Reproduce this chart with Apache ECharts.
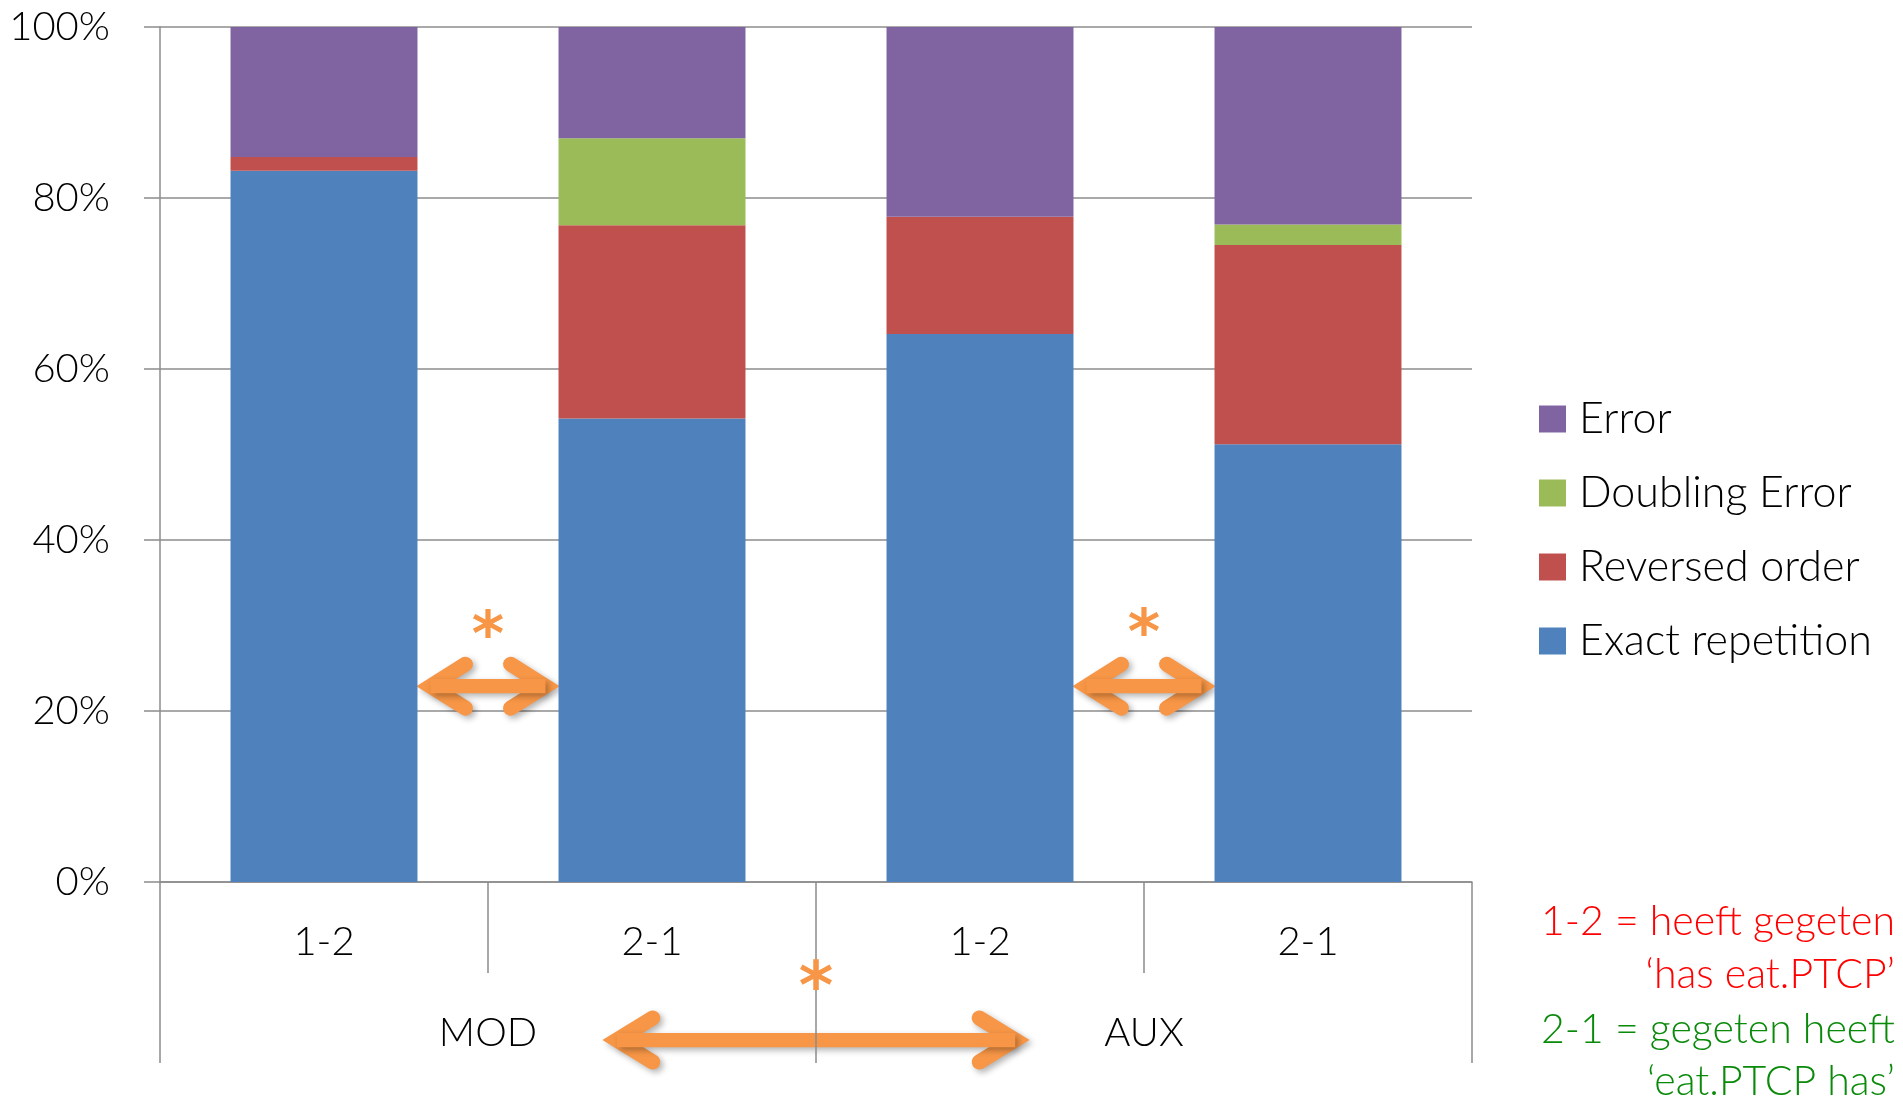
<!DOCTYPE html>
<html>
<head>
<meta charset="utf-8">
<script src="https://cdn.jsdelivr.net/npm/echarts@6/dist/echarts.min.js"></script>
<style>
  html, body { margin: 0; padding: 0; background: #ffffff; }
  #chart { width: 1903px; height: 1101px; }
</style>
</head>
<body>
<div id="chart"></div>
<script>
// Word order conditions, grouped by verb type
const categories = ['1-2', '2-1', '1-2', '2-1'];
const groups = ['MOD', 'AUX'];

// Response shares per condition (percent of responses)
const exactRepetition = [83.2, 54.2, 64.1, 51.2];
const reversedOrder   = [1.6, 22.6, 13.7, 23.3];
const doublingError   = [0, 10.2, 0, 2.4];
const errorShare      = [15.2, 13.0, 22.2, 23.1];

const legendOrder = ['Error', 'Doubling Error', 'Reversed order', 'Exact repetition'];

// Gloss of the two orders
const glossRed   = ['1-2 = heeft gegeten', '\u2018has eat.PTCP\u2019'];
const glossGreen = ['2-1 = gegeten heeft', '\u2018eat.PTCP has\u2019'];

const FONT = 'Lato';
const GRID_COLOR = '#8c8c8c';
const ORANGE = '#f79646';
const BAR_RATIO = 0.57;

const chart = echarts.init(document.getElementById('chart'), null, { renderer: 'canvas' });

function barSeries(name, data, color) {
  return {
    name: name,
    type: 'bar',
    stack: 'total',
    data: data,
    barWidth: (BAR_RATIO * 100) + '%',
    itemStyle: { color: color },
    emphasis: { disabled: true },
    z: 2
  };
}

const option = {
  animation: false,
  backgroundColor: '#ffffff',
  textStyle: { fontFamily: FONT },
  grid: { left: 160, top: 27, right: 431, bottom: 219, containLabel: false },
  legend: {
    orient: 'vertical',
    left: 1534,
    top: 392,
    itemWidth: 27,
    itemHeight: 27,
    itemGap: 30,
    icon: 'rect',
    selectedMode: false,
    data: legendOrder,
    textStyle: {
      fontFamily: FONT, fontWeight: 300, fontSize: 43, color: '#000000',
      lineHeight: 44, padding: [0, 0, 0, 8]
    }
  },
  xAxis: [
    {
      type: 'category',
      data: categories,
      position: 'bottom',
      axisLine: { show: true, lineStyle: { color: GRID_COLOR, width: 1.5 } },
      axisTick: { show: true, interval: 0, length: 91, lineStyle: { color: GRID_COLOR, width: 1.5 } },
      axisLabel: { interval: 0, margin: 40, fontFamily: FONT, fontWeight: 300, fontSize: 40, color: '#000000' },
      splitLine: { show: false }
    },
    {
      type: 'category',
      data: groups,
      position: 'bottom',
      axisLine: { show: false },
      axisTick: { show: true, interval: 0, length: 181, lineStyle: { color: GRID_COLOR, width: 1.5 } },
      axisLabel: { interval: 0, margin: 131, fontFamily: FONT, fontWeight: 300, fontSize: 40, color: '#000000' },
      splitLine: { show: false }
    }
  ],
  yAxis: {
    type: 'value',
    min: 0,
    max: 100,
    interval: 20,
    axisLine: { show: true, lineStyle: { color: GRID_COLOR, width: 1.5 } },
    axisTick: { show: true, length: 16, lineStyle: { color: GRID_COLOR, width: 1.5 } },
    axisLabel: { formatter: '{value}%', margin: 50, fontFamily: FONT, fontWeight: 300, fontSize: 40, color: '#000000' },
    splitLine: { show: true, lineStyle: { color: GRID_COLOR, width: 1.5 } }
  },
  series: [
    barSeries('Exact repetition', exactRepetition, '#4f81bd'),
    barSeries('Reversed order', reversedOrder, '#c0504d'),
    barSeries('Doubling Error', doublingError, '#9bbb59'),
    barSeries('Error', errorShare, '#8064a2')
  ]
};

chart.setOption(option);

// ---- Significance arrows and stars, placed from the axes' own scales ----
function px(cat, val) {
  return chart.convertToPixel({ xAxisIndex: 0, yAxisIndex: 0 }, [cat, val]);
}

const shadow = { shadowBlur: 6, shadowOffsetX: 3, shadowOffsetY: 3, shadowColor: 'rgba(0,0,0,0.3)' };

function doubleArrow(x1, x2, y, opts) {
  const w = opts.width, head = opts.head, half = opts.half, inset = opts.inset;
  const pathStyle = Object.assign({ stroke: ORANGE, lineWidth: w, lineCap: 'round', lineJoin: 'miter', fill: null }, shadow);
  return {
    type: 'group',
    z: 10,
    children: [
      { type: 'polyline', shape: { points: [[x1 + inset + head, y - half], [x1 + inset, y], [x1 + inset + head, y + half]] },
        style: pathStyle },
      { type: 'polyline', shape: { points: [[x2 - inset - head, y - half], [x2 - inset, y], [x2 - inset - head, y + half]] },
        style: pathStyle },
      { type: 'line', shape: { x1: x1 + inset, y1: y, x2: x2 - inset, y2: y },
        style: Object.assign({}, pathStyle, { lineCap: 'butt', lineWidth: w * 0.95 }) }
    ]
  };
}

function star(x, y, size) {
  return {
    type: 'text',
    z: 11,
    style: {
      text: '*', x: x, y: y, align: 'center', verticalAlign: 'middle',
      font: 'bold ' + size + 'px "DejaVu Sans"', fill: ORANGE
    }
  };
}

function buildAnnotations() {
  const c0 = px(0, 0), c1 = px(1, 0), c2 = px(2, 0), c3 = px(3, 0);
  const band = c1[0] - c0[0];
  const bw = band * BAR_RATIO;
  const arrowY = px(0, 22.9)[1];
  const starY = px(0, 29.9)[1];
  const baseY = c0[1];

  const small = { width: 15, head: 35, half: 22, inset: 13 };
  const big = { width: 15, head: 36, half: 22, inset: 14 };

  const midMod = (c0[0] + c1[0]) / 2;
  const midAux = (c2[0] + c3[0]) / 2;
  const midAll = (c1[0] + c2[0]) / 2;

  const elements = [
    doubleArrow(c0[0] + bw / 2, c1[0] - bw / 2, arrowY, small),
    doubleArrow(c2[0] + bw / 2, c3[0] - bw / 2, arrowY, small),
    doubleArrow(midAll - band * 0.65, midAll + band * 0.65, baseY + 158, big),
    star(midMod, starY + 13, 62),
    star(midAux, starY + 11, 62),
    star(midAll, baseY + 109, 66)
  ];

  const lineY = [922, 975, 1030, 1082];
  const glossText = [glossRed[0], glossRed[1], glossGreen[0], glossGreen[1]];
  const glossColor = ['#ff0000', '#ff0000', '#0a8a0a', '#0a8a0a'];
  glossText.forEach(function (t, i) {
    elements.push({
      type: 'text', z: 5,
      style: {
        text: t, x: 1895, y: lineY[i], align: 'right', verticalAlign: 'middle',
        font: '300 41px ' + FONT, fill: glossColor[i]
      }
    });
  });
  return elements;
}

chart.setOption({ graphic: { elements: buildAnnotations() } });
</script>
</body>
</html>
